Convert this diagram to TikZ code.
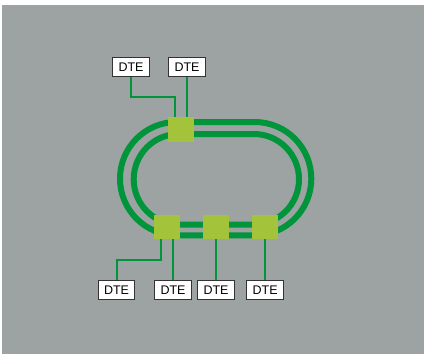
\documentclass[tikz,border=0pt]{standalone}
\usepackage{fontspec}
\setmainfont{Liberation Sans}
\definecolor{bggray}{HTML}{9DA3A2}
\definecolor{ringgreen}{HTML}{00953A}
\definecolor{nodegreen}{HTML}{A3C43A}
\definecolor{boxline}{HTML}{333333}
\tikzset{
  ring/.style={draw=ringgreen, line width=6pt},
  station/.style={fill=nodegreen, minimum width=26pt, minimum height=24.5pt, inner sep=0pt, draw=none},
  dte/.style={draw=boxline, fill=white, line width=1pt, minimum width=36.5pt, minimum height=19pt, inner sep=0pt, font=\fontsize{12.5}{14}\selectfont},
  link/.style={draw=ringgreen, line width=2pt}
}
\begin{document}
\begin{tikzpicture}[x=1pt,y=-1pt]
\useasboundingbox (0,0) rectangle (424,354);
\fill[white] (0,0) rectangle (424,354);
\fill[bggray] (2,5) rectangle (424,354);
% rings
\draw[ring, rounded corners=56.6pt] (120,122) rectangle (311.3,235.3);
\draw[ring, rounded corners=45.2pt] (133.7,134) rectangle (299,224.5);
% stations
\node[station] (s1) at (181,129.5) {};
\node[station] (b1) at (167,227) {};
\node[station] (b2) at (216,227) {};
\node[station] (b3) at (265,227) {};
% DTE boxes
\node[dte] (t1) at (131,67) {DTE};
\node[dte] (t2) at (187,67) {DTE};
\node[dte] (d1) at (116.5,290.3) {DTE};
\node[dte] (d2) at (173,290.3) {DTE};
\node[dte] (d3) at (216,290.3) {DTE};
\node[dte] (d4) at (265.2,290.3) {DTE};
% connectors
\coordinate (c1) at (174.7,96.7);
\coordinate (c2) at (161,260);
\draw[link] (t1.south) |- (c1) -- (c1 |- s1.north);
\draw[link] (t2.south) -- (t2.south |- s1.north);
\draw[link] (c2 |- b1.south) -- (c2) -| (d1.north);
\draw[link] (d2.north) -- (d2.north |- b1.south);
\draw[link] (d3.north) -- (b2.south);
\draw[link] (d4.north) -- (d4.north |- b3.south);
\end{tikzpicture}
\end{document}
